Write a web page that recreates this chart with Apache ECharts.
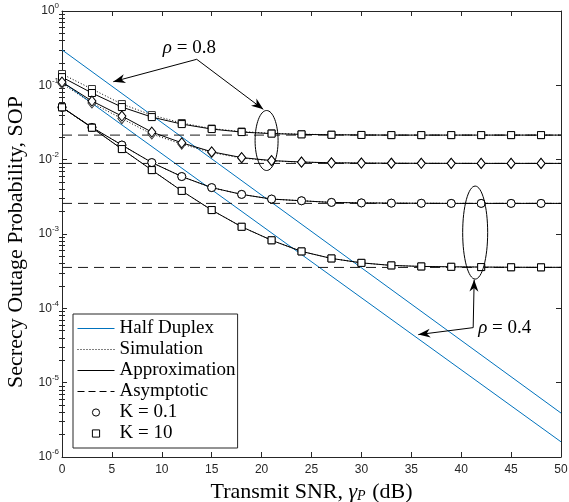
<!DOCTYPE html>
<html>
<head>
<meta charset="utf-8">
<script src="https://cdn.jsdelivr.net/npm/echarts@6/dist/echarts.min.js"></script>
<style>html, body { margin: 0; padding: 0; background: #fff; }</style>
</head>
<body>
<div id="sop" style="width:569px;height:502px;"></div>
<script>
// transmit SNR (dB): markers every 3 dB, curves run on to 50 dB
const snr = [0, 3, 6, 9, 12, 15, 18, 21, 24, 27, 30, 33, 36, 39, 42, 45, 48, 50];

// rho = 0.8
const approxK10Rho08 = [0.129, 0.0788, 0.0510, 0.0374, 0.0301, 0.0258, 0.0235, 0.0224, 0.0219, 0.0216, 0.0215, 0.0214, 0.0214, 0.0214, 0.0214, 0.0214, 0.0214, 0.0214];
const simK10Rho08 = [0.142, 0.0892, 0.0560, 0.0398, 0.0311, 0.0262, 0.0239, 0.0226, 0.0220, 0.0217, 0.0215, 0.0214, 0.0214, 0.0214, 0.0214, 0.0214, 0.0214, 0.0214];
const approxK01Rho08 = [0.1107, 0.0615, 0.0386, 0.0235, 0.01687, 0.01277, 0.01067, 0.00972, 0.00929, 0.00908, 0.00900, 0.00895, 0.00893, 0.00892, 0.00891, 0.00891, 0.00891, 0.00891];
const simK01Rho08 = [0.1057, 0.0578, 0.0357, 0.0221, 0.0162, 0.01247, 0.01051, 0.00965, 0.00926, 0.00907, 0.00900, 0.00895, 0.00893, 0.00892, 0.00891, 0.00891, 0.00891, 0.00891];

// rho = 0.4
const approxK01Rho04 = [0.0506, 0.0272, 0.01573, 0.00914, 0.00593, 0.00421, 0.00341, 0.00295, 0.00280, 0.00266, 0.00262, 0.00260, 0.00259, 0.00258, 0.00258, 0.00258, 0.00258, 0.00258];
const simK01Rho04 = [0.0506, 0.0272, 0.01573, 0.00914, 0.00593, 0.00421, 0.00341, 0.00295, 0.00280, 0.00266, 0.00262, 0.00260, 0.00259, 0.00258, 0.00258, 0.00258, 0.00258, 0.00258];
const approxK10Rho04 = [0.0506, 0.0269, 0.01389, 0.00724, 0.00380, 0.00210, 0.00125, 0.000823, 0.000583, 0.000469, 0.000409, 0.000378, 0.000366, 0.000362, 0.000359, 0.000357, 0.000356, 0.000356];
const simK10Rho04 = [0.0506, 0.0269, 0.01389, 0.00724, 0.00380, 0.00210, 0.00125, 0.000823, 0.000583, 0.000469, 0.000409, 0.000378, 0.000366, 0.000362, 0.000359, 0.000357, 0.000356, 0.000356];

// half duplex (straight lines on the log axis)
const hdSnr = [0, 50];
const hdRho08 = [0.30, 3.9e-6];
const hdRho04 = [0.112, 1.6e-6];

// asymptotes
const asymSnr = [0, 50];
const asymLevels = [0.0214, 0.0089, 0.00258, 0.000355];

const xTicks = [0, 5, 10, 15, 20, 25, 30, 35, 40, 45, 50];
const yTicks = [1e-6, 1e-5, 1e-4, 1e-3, 1e-2, 1e-1, 1];
const yMinor = [];
for (let d = -6; d < 0; d++) {
    for (let k = 2; k <= 9; k++) yMinor.push(k * Math.pow(10, d));
}

const ink = '#262626';
const blue = '#0072BD';
const serif = '"Liberation Serif", "Times New Roman", serif';
const sans = '"Liberation Sans", Arial, sans-serif';

// annotation anchors in data coordinates [dB, SOP]
const rho08Text = [10.1, 0.318];
const rho08From = [13.5, 0.224];
const rho08To = [[5.14, 0.112], [20.17, 0.0475]];
const ellipse08 = [20.5, 0.0181];
const ellipse04 = [41.4, 1.045e-3];
const rho04Corner = [41.2, 5.5e-5];
const rho04To = [[41.3, 2.43e-4], [35.7, 4.43e-5]];
const rho04Text = [41.7, 5.37e-5];

function pairs(xs, ys) {
    return xs.map((x, i) => [x, ys[i]]);
}

function curve(name, values, symbol, size, dotted) {
    return {
        name: name,
        type: 'line',
        data: snr.map((x, i) => i === snr.length - 1 ? { value: [x, values[i]], symbol: 'none' } : [x, values[i]]),
        symbol: symbol,
        symbolSize: size,
        lineStyle: { color: '#000', width: 1, type: dotted ? [1, 2] : 'solid' },
        itemStyle: { color: '#fff', borderColor: dotted ? '#333' : '#000', borderWidth: 1 },
        z: dotted ? 3 : 4,
        emphasis: { disabled: true },
        silent: true
    };
}

function plain(name, xs, ys, color, type) {
    return {
        name: name,
        type: 'line',
        data: pairs(xs, ys),
        symbol: 'none',
        lineStyle: { color: color, width: 1, type: type },
        itemStyle: { color: color },
        z: 2,
        emphasis: { disabled: true },
        silent: true
    };
}

const series = [];
series.push(plain('Half Duplex', hdSnr, hdRho08, blue, 'solid'));
series.push(plain('Half Duplex', hdSnr, hdRho04, blue, 'solid'));
asymLevels.forEach(function (v, i) {
    series.push(plain('asym' + i, asymSnr, asymSnr.map(() => v), '#1a1a1a', [10, 6]));
});
series.push(curve('sim K10 r08', simK10Rho08, 'rect', 7, true));
series.push(curve('sim K01 r08', simK01Rho08, 'diamond', [8, 10], true));
series.push(curve('sim K01 r04', simK01Rho04, 'circle', 8, true));
series.push(curve('sim K10 r04', simK10Rho04, 'rect', 7, true));
series.push(curve('app K10 r08', approxK10Rho08, 'rect', 7, false));
series.push(curve('app K01 r08', approxK01Rho08, 'diamond', [8, 10], false));
series.push(curve('app K01 r04', approxK01Rho04, 'circle', 8, false));
series.push(curve('app K10 r04', approxK10Rho04, 'rect', 7, false));

// legend-only entries
series.push({ name: 'Simulation', type: 'line', data: [], symbol: 'none', lineStyle: { color: '#000', width: 1, type: [1, 2] } });
series.push({ name: 'Approximation', type: 'line', data: [], symbol: 'none', lineStyle: { color: '#000', width: 1 } });
series.push({ name: 'Asymptotic', type: 'line', data: [], symbol: 'none', lineStyle: { color: '#000', width: 1, type: [7, 4] } });
series.push({ name: 'K = 0.1', type: 'line', data: [], symbol: 'circle', itemStyle: { color: '#fff', borderColor: '#000', borderWidth: 1 }, lineStyle: { width: 0 } });
series.push({ name: 'K = 10', type: 'line', data: [], symbol: 'rect', itemStyle: { color: '#fff', borderColor: '#000', borderWidth: 1 }, lineStyle: { width: 0 } });

function expLabel(v) {
    const e = Math.round(Math.log10(v));
    return '{b|10}{e|' + e + '}';
}

const noLine = { opacity: 0 };
const hollow = { color: '#fff', borderColor: '#000', borderWidth: 1, opacity: 1 };

const option = {
    animation: false,
    backgroundColor: '#fff',
    grid: { left: 62, right: 8, top: 11, bottom: 45, containLabel: false, outerBoundsMode: 'none' },
    legend: {
        orient: 'vertical',
        left: 73,
        top: 314,
        padding: [5, 2, 5, 4],
        itemWidth: 37,
        itemHeight: 9,
        itemGap: 2,
        borderColor: ink,
        borderWidth: 1,
        backgroundColor: '#fff',
        selectedMode: false,
        textStyle: { fontFamily: serif, fontSize: 19, color: '#000', lineHeight: 18 },
        data: [
            { name: 'Half Duplex', itemStyle: noLine, lineStyle: { color: blue, width: 1, type: 'solid', opacity: 1 } },
            { name: 'Simulation', itemStyle: noLine, lineStyle: { color: '#000', width: 1, type: [1, 2], opacity: 1 } },
            { name: 'Approximation', itemStyle: noLine, lineStyle: { color: '#000', width: 1, type: 'solid', opacity: 1 } },
            { name: 'Asymptotic', itemStyle: noLine, lineStyle: { color: '#000', width: 1, type: [7, 4], opacity: 1 } },
            { name: 'K = 0.1', itemStyle: hollow, lineStyle: noLine },
            { name: 'K = 10', itemStyle: hollow, lineStyle: noLine }
        ]
    },
    xAxis: [{
        type: 'value',
        min: 0,
        max: 50,
        interval: 5,
        position: 'bottom',
        name: '{t|Transmit SNR, }{g|γ}{s|P}{t| (dB)}',
        nameLocation: 'middle',
        nameGap: 22,
        nameTextStyle: {
            rich: {
                t: { fontFamily: serif, fontSize: 22, color: '#000' },
                g: { fontFamily: serif, fontSize: 22, fontStyle: 'italic', color: '#000' },
                s: { fontFamily: serif, fontSize: 14, fontStyle: 'italic', color: '#000', padding: [9, 1, 0, 0] }
            }
        },
        axisLine: { lineStyle: { color: ink, width: 1 } },
        axisTick: { inside: true, length: 5, lineStyle: { color: ink } },
        axisLabel: { margin: 7, fontFamily: sans, fontSize: 12, color: ink, customValues: xTicks },
        splitLine: { show: false }
    }, {
        type: 'value',
        min: 0,
        max: 50,
        interval: 5,
        position: 'top',
        axisLine: { onZero: false, lineStyle: { color: ink, width: 1 } },
        axisTick: { inside: true, length: 5, lineStyle: { color: ink } },
        axisLabel: { show: false },
        splitLine: { show: false }
    }],
    yAxis: [{
        type: 'log',
        logBase: 10,
        min: 1e-6,
        max: 1,
        position: 'left',
        name: 'Secrecy Outage Probability, SOP',
        nameLocation: 'middle',
        nameGap: 33,
        nameTextStyle: { fontFamily: serif, fontSize: 22, color: '#000', padding: [0, 16, 0, 0] },
        axisLine: { onZero: false, lineStyle: { color: ink, width: 1 } },
        axisTick: { inside: true, length: 5, lineStyle: { color: ink }, customValues: yTicks },
        axisLabel: {
            margin: 3,
            customValues: yTicks,
            formatter: expLabel,
            rich: {
                b: { fontFamily: sans, fontSize: 12, color: ink },
                e: { fontFamily: sans, fontSize: 8, color: ink, padding: [0, 0, 10, 0] }
            }
        },
        splitLine: { show: false }
    }, {
        type: 'log',
        logBase: 10,
        min: 1e-6,
        max: 1,
        position: 'right',
        axisLine: { onZero: false, lineStyle: { color: ink, width: 1 } },
        axisTick: { inside: true, length: 5, lineStyle: { color: ink }, customValues: yTicks },
        axisLabel: { show: false },
        splitLine: { show: false }
    }, {
        type: 'log',
        logBase: 10,
        min: 1e-6,
        max: 1,
        position: 'left',
        axisLine: { show: false },
        axisTick: { inside: true, length: 3, lineStyle: { color: ink }, customValues: yMinor },
        axisLabel: { show: false },
        splitLine: { show: false }
    }, {
        type: 'log',
        logBase: 10,
        min: 1e-6,
        max: 1,
        position: 'right',
        axisLine: { show: false },
        axisTick: { inside: true, length: 3, lineStyle: { color: ink }, customValues: yMinor },
        axisLabel: { show: false },
        splitLine: { show: false }
    }],
    series: series
};

const chart = echarts.init(document.getElementById('sop'), null, { renderer: 'canvas' });
chart.setOption(option);

// annotations: arrows, ellipses and rho labels
function px(p) {
    return chart.convertToPixel({ xAxisIndex: 0, yAxisIndex: 0 }, p);
}

function arrowHead(from, to) {
    const dx = to[0] - from[0], dy = to[1] - from[1];
    const len = Math.sqrt(dx * dx + dy * dy);
    const ux = dx / len, uy = dy / len;
    const nx = -uy, ny = ux;
    const L = 12, W = 4.5;
    const bx = to[0] - ux * L, by = to[1] - uy * L;
    const mx = to[0] - ux * L * 0.7, my = to[1] - uy * L * 0.7;
    return {
        type: 'polygon',
        shape: { points: [to, [bx + nx * W, by + ny * W], [mx, my], [bx - nx * W, by - ny * W]] },
        style: { fill: '#000' },
        z: 20
    };
}

function arrow(from, to) {
    return [{
        type: 'line',
        shape: { x1: from[0], y1: from[1], x2: to[0], y2: to[1] },
        style: { stroke: '#000', lineWidth: 1 },
        z: 20
    }, arrowHead(from, to)];
}

function rhoText(pos, value) {
    return {
        type: 'text',
        x: pos[0],
        y: pos[1],
        style: {
            text: '{i|ρ}{n| = ' + value + '}',
            verticalAlign: 'middle',
            align: 'left',
            rich: {
                i: { fontFamily: serif, fontStyle: 'italic', fontSize: 19, fill: '#000' },
                n: { fontFamily: serif, fontSize: 19, fill: '#000' }
            }
        },
        z: 20
    };
}

const g = [];
const o8 = px(rho08From);
rho08To.forEach(function (t) { g.push.apply(g, arrow(o8, px(t))); });
g.push(rhoText(px(rho08Text), '0.8'));
const e8 = px(ellipse08);
g.push({ type: 'ellipse', shape: { cx: e8[0], cy: e8[1], rx: 11.5, ry: 30 }, style: { stroke: '#000', fill: null, lineWidth: 1 }, z: 20 });
const e4 = px(ellipse04);
g.push({ type: 'ellipse', shape: { cx: e4[0], cy: e4[1], rx: 12.5, ry: 46.5 }, style: { stroke: '#000', fill: null, lineWidth: 1 }, z: 20 });
const c4 = px(rho04Corner);
rho04To.forEach(function (t) { g.push.apply(g, arrow(c4, px(t))); });
g.push(rhoText(px(rho04Text), '0.4'));

chart.setOption({ graphic: g });
</script>
</body>
</html>
